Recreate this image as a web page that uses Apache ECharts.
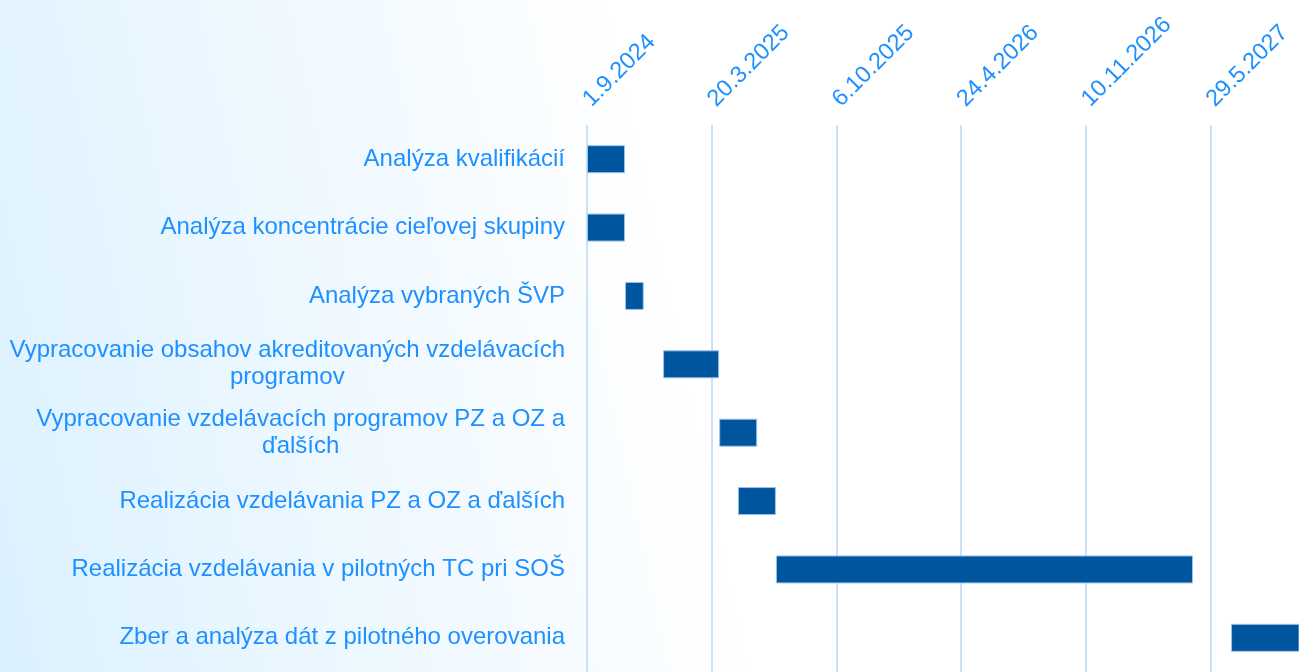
<!DOCTYPE html>
<html>
<head>
<meta charset="utf-8">
<script src="https://cdn.jsdelivr.net/npm/echarts@6/dist/echarts.min.js"></script>
<style>
  html, body { margin: 0; padding: 0; width: 1299px; height: 672px; overflow: hidden; }
  #chart { width: 1299px; height: 672px; background: linear-gradient(78deg, #dbf1fe 0%, #ebf7ff 22%, #f5fbff 38%, #ffffff 52%, #ffffff 100%); }
</style>
</head>
<body>
<div id="chart"></div>
<script>
// Task names (line breaks as in the reference)
const tasks = [
  'Analýza kvalifikácií',
  'Analýza koncentrácie cieľovej skupiny',
  'Analýza vybraných ŠVP',
  'Vypracovanie obsahov akreditovaných vzdelávacích\nprogramov',
  'Vypracovanie vzdelávacích programov PZ a OZ a\nďalších',
  'Realizácia vzdelávania PZ a OZ a ďalších',
  'Realizácia vzdelávania v pilotných TC pri SOŠ',
  'Zber a analýza dát z pilotného overovania'
];
// Start and end dates (inclusive)
const startDates = ['2024-09-01', '2024-09-01', '2024-11-01', '2025-01-01', '2025-04-01', '2025-05-01', '2025-07-01', '2027-07-01'];
const endDates   = ['2024-10-31', '2024-10-31', '2024-11-30', '2025-03-31', '2025-05-31', '2025-06-30', '2027-04-30', '2027-12-31'];
// Axis: origin date, step in days, visible end (days from origin)
const axisOrigin = '2024-09-01';
const axisStepDays = 200;
const axisEndDays = 1142;

const DAY = 86400000;
function toUTC(s) { const p = s.split('-').map(Number); return Date.UTC(p[0], p[1] - 1, p[2]); }
const origin = toUTC(axisOrigin);
const offsets = startDates.map(s => (toUTC(s) - origin) / DAY);
const durations = endDates.map((e, i) => (toUTC(e) - toUTC(startDates[i])) / DAY + 1);

function fmtDate(days) {
  const d = new Date(origin + days * DAY);
  return d.getUTCDate() + '.' + (d.getUTCMonth() + 1) + '.' + d.getUTCFullYear();
}

const FONT = 'Liberation Sans, Arial, sans-serif';
const BLUE = '#1e90ff';

const chart = echarts.init(document.getElementById('chart'), null, { renderer: 'canvas' });
chart.setOption({
  backgroundColor: 'transparent',
  animation: false,
  grid: { left: 587, right: 0, top: 125, height: 552, containLabel: false },
  xAxis: {
    type: 'value',
    position: 'top',
    min: 0,
    max: axisEndDays,
    interval: axisStepDays,
    axisLine: { show: false },
    axisTick: { show: false },
    splitLine: { show: true, showMaxLine: false, lineStyle: { color: '#c9e2fb', width: 2 } },
    axisLabel: {
      rotate: -45,
      margin: 22,
      color: BLUE,
      fontFamily: FONT,
      fontSize: 23.5,
      showMaxLabel: false,
      formatter: v => (v % axisStepDays === 0 ? fmtDate(v) : '')
    }
  },
  yAxis: {
    type: 'category',
    inverse: true,
    data: tasks,
    axisLine: { show: false },
    axisTick: { show: false },
    splitLine: { show: false },
    axisLabel: {
      margin: 22,
      color: BLUE,
      fontFamily: FONT,
      fontSize: 24,
      lineHeight: 27,
      formatter: v => v.split('\n').map(l => '{c|' + l + '}').join('\n'),
      rich: { c: { align: 'center', color: BLUE, fontFamily: FONT, fontSize: 24, lineHeight: 27 } }
    }
  },
  series: [
    {
      type: 'bar', stack: 'g', data: offsets, barWidth: 28,
      itemStyle: { color: 'transparent' }, silent: true
    },
    {
      type: 'bar', stack: 'g', data: durations, barWidth: 28,
      itemStyle: { color: '#00559f', borderColor: '#9cc3ea', borderWidth: 1 }
    }
  ]
});
</script>
</body>
</html>
